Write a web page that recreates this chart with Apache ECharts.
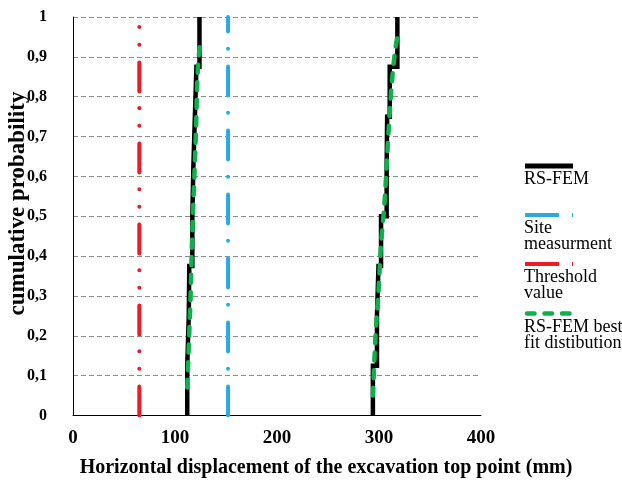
<!DOCTYPE html>
<html>
<head>
<meta charset="utf-8">
<script src="https://cdn.jsdelivr.net/npm/echarts@6/dist/echarts.min.js"></script>
<style>html,body{margin:0;padding:0;background:#fff}#c{width:622px;height:480px}</style>
</head>
<body>
<div id="c"></div>
<script>
// ---- data ----
var probLevels = [0, 0.125, 0.25, 0.375, 0.5, 0.625, 0.75, 0.875, 1];
var femLeftX  = [112, 113.5, 114, 117, 118, 119.5, 121, 124];
var femRightX = [294, 298, 299.5, 302, 307.5, 308, 310.5, 318];
var fitLeftX  = [112, 113.6, 114.3, 115.2, 116.3, 117.5, 119, 120.5, 121.8, 122.8, 124.4];
var fitLeftP  = [0.07, 0.18, 0.23, 0.29, 0.40, 0.50, 0.60, 0.71, 0.835, 0.885, 0.93];
var fitRightX = [294, 296.2, 297.8, 299.5, 302, 305, 307.2, 309.3, 312.6, 315.9, 318];
var fitRightP = [0.05, 0.18, 0.25, 0.31, 0.43, 0.52, 0.61, 0.71, 0.835, 0.918, 0.95];
var siteValue = 152;
var thresholdValue = 65;
var xTicks = [0, 100, 200, 300, 400];
var yTickStep = 0.1;
var legendNames = ['RS-FEM', 'Site\nmeasurment', 'Threshold\nvalue', 'RS-FEM best\nfit distibution'];
var xTitle = 'Horizontal displacement of the excavation top point (mm)';
var yTitle = 'cumulative probability';

function stepData(xs) {
  var d = [];
  for (var i = 0; i < xs.length; i++) {
    d.push([xs[i], probLevels[i]]);
    d.push([xs[i], probLevels[i + 1]]);
  }
  return d;
}
function zip(xs, ps) { return xs.map(function (x, i) { return [x, ps[i]]; }); }

var RED = '#ed1c24', BLUE = '#29abe2', GREEN = '#0db04b', BLACK = '#000';
var serif = '"Liberation Serif", "Times New Roman", serif';

var chart = echarts.init(document.getElementById('c'), null, {renderer: 'canvas'});
chart.setOption({
  animation: false,
  grid: {left: 73, right: 141, top: 17, bottom: 64.5, containLabel: false},
  xAxis: {
    type: 'value', min: xTicks[0], max: xTicks[xTicks.length - 1], interval: 100,
    axisLine: {show: true, lineStyle: {color: '#000', width: 1}},
    axisTick: {show: false},
    splitLine: {show: false},
    axisLabel: {color: '#000', fontFamily: serif, fontWeight: 'bold', fontSize: 19, margin: 13}
  },
  yAxis: {
    type: 'value', min: 0, max: 1, interval: yTickStep,
    axisLine: {show: true, lineStyle: {color: '#000', width: 1}},
    axisTick: {show: false},
    splitLine: {show: true, lineStyle: {color: '#8c8c8c', width: 1, type: [5, 3]}},
    axisLabel: {
      color: '#000', fontFamily: serif, fontWeight: 'bold', fontSize: 16, margin: 26,
      formatter: function (v) { return String(Math.round(v * 10) / 10).replace('.', ','); }
    }
  },
  series: [
    {type: 'line', name: 'thr', data: [[thresholdValue, 0], [thresholdValue, 1]], symbol: 'none',
     lineStyle: {color: RED, width: 4, type: [29, 17.7, 0.01, 17.6, 0.01, 16.7], cap: 'round'}},
    {type: 'line', name: 'site', data: [[siteValue, 0], [siteValue, 1]], symbol: 'none',
     lineStyle: {color: BLUE, width: 4, type: [29, 17.7, 0.01, 17.3], cap: 'round'}},
    {type: 'line', name: 'femL', data: stepData(femLeftX), symbol: 'none',
     lineStyle: {color: BLACK, width: 4.5, join: 'miter'}},
    {type: 'line', name: 'femR', data: stepData(femRightX), symbol: 'none',
     lineStyle: {color: BLACK, width: 4.5, join: 'miter'}},
    {type: 'line', name: 'fitL', data: zip(fitLeftX, fitLeftP), symbol: 'none', smooth: 0.3,
     lineStyle: {color: GREEN, width: 4.5, type: [8, 9.5], cap: 'round'}},
    {type: 'line', name: 'fitR', data: zip(fitRightX, fitRightP), symbol: 'none', smooth: 0.3,
     lineStyle: {color: GREEN, width: 4.5, type: [8, 9.5], cap: 'round'}}
  ],
  graphic: [
    {type: 'text', x: 326, y: 468, style: {text: xTitle, font: 'bold 20px ' + serif, fill: '#000', align: 'center', verticalAlign: 'middle'}},
    {type: 'text', x: 18, y: 203.5, rotation: Math.PI / 2, style: {text: yTitle, font: 'bold 23px ' + serif, fill: '#000', align: 'center', verticalAlign: 'middle'}},
    // legend samples
    {type: 'line', shape: {x1: 525, y1: 166, x2: 573, y2: 166}, style: {stroke: BLACK, lineWidth: 5}},
    {type: 'line', shape: {x1: 525, y1: 215, x2: 573, y2: 215}, style: {stroke: BLUE, lineWidth: 4, lineDash: [34, 13, 1, 50]}},
    {type: 'line', shape: {x1: 525, y1: 264, x2: 573, y2: 264}, style: {stroke: RED, lineWidth: 4, lineDash: [34, 13, 1, 50]}},
    {type: 'line', shape: {x1: 527, y1: 313.5, x2: 569.5, y2: 313.5}, style: {stroke: GREEN, lineWidth: 4.5, lineDash: [7.5, 10], lineCap: 'round'}},
    {type: 'text', x: 524, y: 171, style: {text: legendNames[0], font: '18px ' + serif, fill: '#000', lineHeight: 16}},
    {type: 'text', x: 524, y: 220, style: {text: legendNames[1], font: '18px ' + serif, fill: '#000', lineHeight: 16}},
    {type: 'text', x: 524, y: 269, style: {text: legendNames[2], font: '18px ' + serif, fill: '#000', lineHeight: 16}},
    {type: 'text', x: 524, y: 319, style: {text: legendNames[3], font: '18px ' + serif, fill: '#000', lineHeight: 16}}
  ]
});
</script>
</body>
</html>
